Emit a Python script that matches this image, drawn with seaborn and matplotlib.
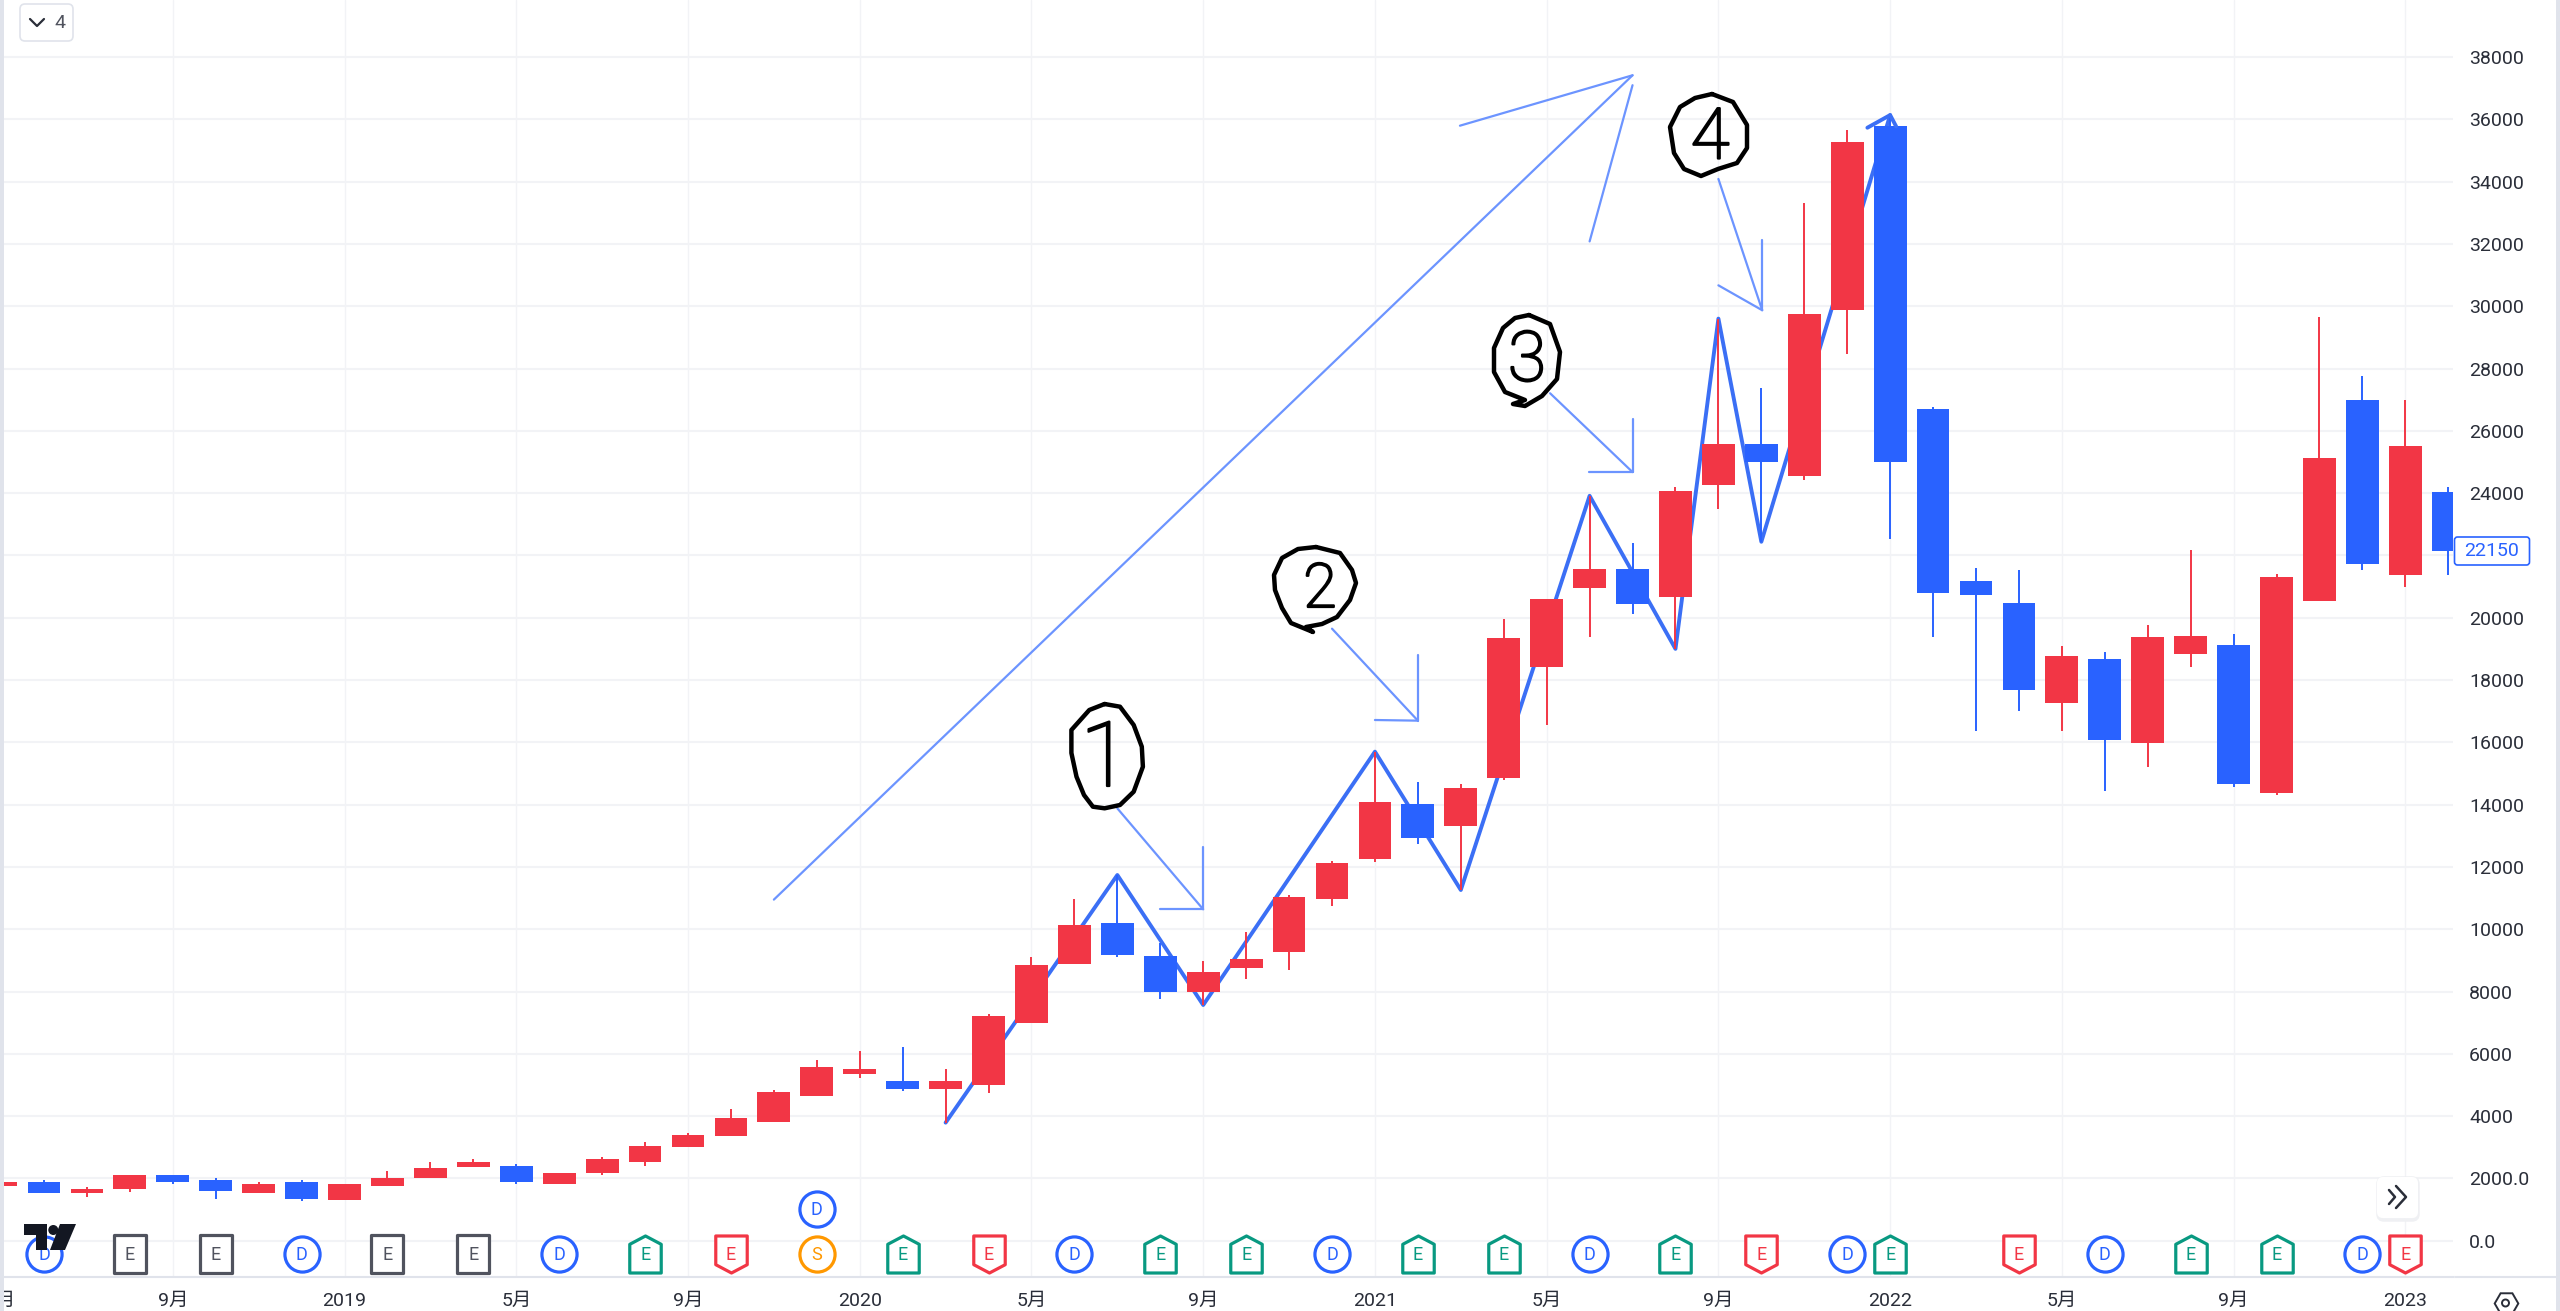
import matplotlib
matplotlib.use("Agg")
import matplotlib.pyplot as plt
import matplotlib.patheffects as pe
import seaborn as sns
import numpy as np
from matplotlib.path import Path
from matplotlib.patches import FancyBboxPatch, Polygon, Circle

# ---------- candle data (months since 2019-01) ----------
months = list(range(-8, 50))
body_low = [1756,1521,1521,1650,1874,1585,1521,1350,1296,1767,2003,2356,1874,1820,2174,2516,2998,3351,3811,4645,
            5352,4859,4870,4999,6999,8873,9173,7985,7985,8744,9279,10981,12265,12917,13324,14844,18428,20953,20449,20657,
            24257,25006,24552,29871,24994,20786,20717,17668,17255,16086,15971,18837,14675,14377,20534,21715,21360,22128]
body_high = [1874,1874,1650,2120,2120,1938,1820,1874,1820,2003,2345,2527,2409,2174,2634,3051,3393,3928,4763,5566,
             5523,5116,5116,7224,8862,10146,10200,9151,8616,9033,11023,12136,14073,14020,14544,19348,20589,21578,21578,24060,
             25571,25571,29748,35264,35780,26702,21176,20477,18768,18665,19365,19422,19135,21291,25120,26989,25521,24042]
wick_low = [1756,1521,1414,1575,1820,1350,1521,1286,1296,1767,2003,2356,1810,1820,2120,2409,2998,3351,3811,4645,
            5223,4806,3790,4752,6999,8873,9098,7749,7567,8402,8691,10745,12158,12725,11259,14790,16555,19368,20129,19000,
            23483,22438,24417,28458,22525,19376,16372,17014,16372,14423,15203,18425,14550,14309,20534,21520,20993,21360]
wick_high = [1874,1938,1714,2120,2120,2003,1874,1938,1820,2227,2516,2634,2463,2174,2698,3169,3447,4217,4827,5801,
             6101,6218,5512,7278,9098,10970,11740,9547,8980,9911,11088,12200,15700,14715,14662,19947,20589,23913,22402,24183,
             29601,27390,33311,35670,36136,26760,21600,21543,19078,18894,19777,22173,19479,21417,29649,27745,26989,24180]
is_red = [1,0,1,1,0,0,1,0,1,1,1,1,0,1,1,1,1,1,1,1,
          1,0,1,1,1,1,0,0,1,1,1,1,1,0,1,1,1,1,0,1,
          1,0,1,1,0,0,0,0,1,0,1,1,0,1,1,0,1,0]

# ---------- zigzag and drawn arrows ----------
zig_m = [14, 18, 20, 24, 26, 29, 31, 32, 33, 36]
zig_v = [3790, 11740, 7567, 15700, 11259, 23913, 19000, 29601, 22438, 36136]
hook_m = [35.47, 36, 36.14]
hook_v = [35730, 36136, 35770]
arrows = [
    ([10.0, 30.0], [10950, 37413]), ([25.98, 30.0], [35795, 37413]), ([29.0, 30.0], [32080, 37095]),
    ([18.0, 20.0], [13880, 10638]), ([20.0, 20.0], [12629, 10638]), ([19.0, 20.0], [10649, 10649]),
    ([23.0, 25.0], [19648, 16695]), ([25.0, 25.0], [18803, 16695]), ([24.0, 25.0], [16716, 16695]),
    ([28.08, 30.0], [27205, 24675]), ([30.0, 30.0], [26370, 24675]), ([28.98, 30.0], [24675, 24675]),
    ([32.0, 33.02], [34085, 29871]), ([33.02, 33.02], [32119, 29871]), ([32.0, 33.02], [30670, 29871]),
]

# ---------- event badges ----------
ev_circle_blue = [-7, -1, 5, 17, 23, 29, 35, 41, 47]
ev_square_grey = [-5, -3, 1, 3]
ev_up_green = [7, 13, 19, 21, 25, 27, 31, 36, 43, 45]
ev_down_red = [9, 15, 33, 39, 48]
ev_orange = [11]
ev_upper_blue = [11]

# ---------- axis labels ----------
x_tick_months = list(range(-8, 49, 4))
x_tick_labels = ["5月","9月","2019","5月","9月","2020","5月","9月","2021","5月","9月","2022","5月","9月","2023"]
y_ticks = list(range(0, 38001, 2000))
y_tick_labels = ["0.0", "2000.0"] + [str(v) for v in y_ticks[2:]]
y_tick_labels[y_ticks.index(22000)] = ""
last_price = 22150

RED = "#F23645"
BLUE = "#2962FF"
GREEN = "#089981"
GREY = "#50535E"
ORANGE = "#FF9800"
LINE = "#3B6FF5"
ARROW = "#6C94FF"
TXT = "#2A2E39"
EDGE = "#E0E3EB"

sns.set_theme(style="white")
plt.rcParams["font.family"] = ["Roboto", "Noto Sans CJK SC", "DejaVu Sans"]

fig = plt.figure(figsize=(25.6, 13.11), dpi=100, facecolor="white")
ax = fig.add_axes([0, 34 / 1311, 2453 / 2560, 1277 / 1311])
ax.set_xlim(-8.025, 49.11)
ax.set_ylim(-1165, 39830)

# grid
ax.set_xticks(x_tick_months)
ax.set_xticklabels(x_tick_labels, fontsize=14, color=TXT)
ax.set_yticks(y_ticks)
ax.set_yticklabels(y_tick_labels, fontsize=14, color=TXT, ha="left")
ax.yaxis.tick_right()
ax.tick_params(axis="x", length=0, pad=11)
ax.tick_params(axis="y", length=0, pad=11.5)
ax.grid(True, axis="y", color="#F2F3F6", lw=1.5, zorder=0)
ax.grid(True, axis="x", color="#F2F3F6", lw=1.0, zorder=0)
ax.set_axisbelow(True)
for k in ["top", "left", "right"]:
    ax.spines[k].set_visible(False)
ax.spines["bottom"].set_color(EDGE)
ax.spines["bottom"].set_linewidth(1.5)

# zigzag under the candles
sns.lineplot(x=zig_m, y=zig_v, sort=False, estimator=None, color=LINE, lw=2.8, ax=ax, zorder=2)

# candles
m = np.array(months)
cols = [RED if r else BLUE for r in is_red]
ax.vlines(m, wick_low, wick_high, colors=cols, lw=1.4, zorder=3)
ax.bar(m, np.array(body_high) - np.array(body_low), bottom=body_low, width=0.765, color=cols, lw=0, zorder=4)

# hand-drawn arrows
sns.lineplot(x=hook_m, y=hook_v, sort=False, estimator=None, color=LINE, lw=2.8, ax=ax, zorder=5)
for ax_, ay_ in arrows:
    ax.plot(ax_, ay_, color=ARROW, lw=1.6, zorder=5, solid_capstyle="round")

# event badges
house_up = Path([(-0.85, -1), (0.85, -1), (0.85, 0.55), (0, 1), (-0.85, 0.55), (-0.85, -1)], closed=True)
house_down = Path([(-0.85, 1), (0.85, 1), (0.85, -0.55), (0, -1), (-0.85, -0.55), (-0.85, 1)], closed=True)
square = Path([(-0.85, -1), (0.85, -1), (0.85, 1), (-0.85, 1), (-0.85, -1)], closed=True)
EV_Y = -430
BADGE_S = 710


def badges(xs, marker, color, letter, y=EV_Y, s=BADGE_S):
    before = len(ax.collections)
    sns.scatterplot(x=xs, y=[y] * len(xs), marker=marker, s=s, facecolor="white", edgecolor=color,
                    linewidth=2.3, ax=ax, zorder=6, clip_on=False)
    for coll in ax.collections[before:]:
        coll.set_joinstyle("round")
    for x in xs:
        ax.text(x, y - 25, letter, color=color, fontsize=13, ha="center", va="center", zorder=7)


badges(ev_circle_blue, "o", BLUE, "D", s=640)
badges(ev_upper_blue, "o", BLUE, "D", y=1017, s=640)
badges(ev_square_grey, square, GREY, "E")
badges(ev_up_green, house_up, GREEN, "E")
badges(ev_down_red, house_down, RED, "E")
badges(ev_orange, "o", ORANGE, "S", s=640)
ax.set_xlabel("")
ax.set_ylabel("")

# overlay in screen pixels for the hand-written notes and chart furniture
ov = fig.add_axes([0, 0, 1, 1], facecolor="none")
ov.set_xlim(0, 2560)
ov.set_ylim(1311, 0)
ov.axis("off")

ov.add_patch(plt.Rectangle((0, 0), 3.5, 1311, color=EDGE, lw=0))
ov.add_patch(plt.Rectangle((2556, 0), 4, 1311, color=EDGE, lw=0))
ov.plot([2455, 2556], [1277, 1277], color=EDGE, lw=1.5)

circle_1 = [(1104.6,704),(1120,706.7),(1133.7,725),(1141.8,746.7),(1142.9,766.7),(1133.7,791.7),(1120,805),(1104.6,808.3),
            (1092.9,806.7),(1084,795),(1076.5,776.7),(1071.4,753),(1071.4,730),(1089.3,710),(1104.6,704)]
circle_2 = [(1316,547),(1340,553),(1352,570),(1356,583),(1350,600),(1337,617),(1322,624),(1306,627),(1313,632),
            (1291,623),(1282,608),(1275,590),(1274,575),(1282,558),(1298,549),(1316,547)]
circle_3 = [(1529,315),(1550,324),(1560,352),(1557,379),(1542,396),(1525,406),(1513,404),(1525,400),(1505,392),
            (1494,372),(1494,348),(1503,328),(1515,318),(1529,315)]
circle_4 = [(1712,94),(1733,102),(1747,125),(1747,148),(1737,163),(1718,169),(1701,176),(1684,169),(1674,153),
            (1670,127),(1680,107),(1695,98),(1712,94)]
for pts in (circle_1, circle_2, circle_3, circle_4):
    xs, ys = zip(*pts)
    ov.plot(xs, ys, color="black", lw=3.2, solid_joinstyle="round", solid_capstyle="round")
for d, x, y, fs in (("1", 1105, 761, 65), ("2", 1320, 590, 44), ("3", 1527, 362, 50), ("4", 1710, 139, 51)):
    ov.text(x, y, d, fontsize=fs, color="black", ha="center", va="center", fontweight="light",
            family=["Roboto", "DejaVu Sans"],
            path_effects=[pe.withStroke(linewidth=1.6, foreground="black")])

# last-price label
ov.add_patch(FancyBboxPatch((2454.5, 537), 75, 28, boxstyle="round,pad=0,rounding_size=3",
                            fc="white", ec=BLUE, lw=1.2))
ov.text(2492, 551.5, str(last_price), color=BLUE, fontsize=14, ha="center", va="center")

# top-left collapse button
ov.add_patch(FancyBboxPatch((20, 4), 53, 37, boxstyle="round,pad=0,rounding_size=5",
                            fc="white", ec=EDGE, lw=1.2))
ov.plot([30, 37, 44], [19, 26, 19], color="#2A2E39", lw=1.6)
ov.text(60, 23, "4", color="#50535E", fontsize=14, ha="center", va="center")

# scroll button
ov.add_patch(FancyBboxPatch((2378, 1178), 40, 42, boxstyle="round,pad=0,rounding_size=6",
                            fc="#F6F6F8", ec="#EFF0F3", lw=2.5))
ov.add_patch(FancyBboxPatch((2377, 1177), 41, 41, boxstyle="round,pad=0,rounding_size=6",
                            fc="white", ec="none"))
ov.plot([2389, 2395, 2389], [1190, 1197, 1204], color="#2A2E39", lw=1.8)
ov.plot([2396, 2406, 2396], [1186, 1197, 1208], color="#2A2E39", lw=1.8)

# gear
ov.plot([2505.5], [1303], marker="H", ms=17, mfc="none", mec="#2A2E39", mew=1.4)
ov.add_patch(Circle((2505.5, 1303), 3.5, fc="none", ec="#2A2E39", lw=1.4))

# watermark
ov.add_patch(Polygon([(24, 1224), (47, 1224), (47, 1250), (36, 1250), (36, 1235), (24, 1235)], fc="#131722", ec="none", zorder=8))
ov.add_patch(Circle((53.3, 1230), 5, fc="#131722", ec="none", zorder=8))
ov.add_patch(Polygon([(76, 1224), (60, 1224), (50, 1250), (65, 1250)], fc="#131722", ec="none", zorder=8))

fig.savefig("out.png", dpi=100)
